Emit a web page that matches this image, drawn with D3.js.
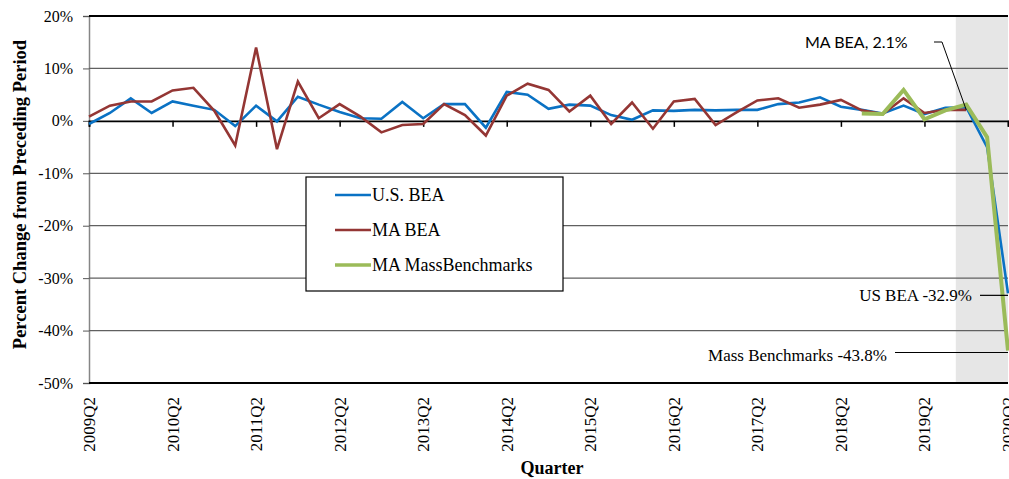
<!DOCTYPE html>
<html><head><meta charset="utf-8">
<script src="https://cdn.jsdelivr.net/npm/d3@7"></script>
<style>html,body{margin:0;padding:0;background:#fff;}svg{display:block;}</style>
</head><body>
<svg id="chart" width="1009" height="479"></svg>
<script>
const quarters = ["2009Q2","2009Q3","2009Q4","2010Q1","2010Q2","2010Q3","2010Q4","2011Q1","2011Q2","2011Q3","2011Q4","2012Q1","2012Q2","2012Q3","2012Q4","2013Q1","2013Q2","2013Q3","2013Q4","2014Q1","2014Q2","2014Q3","2014Q4","2015Q1","2015Q2","2015Q3","2015Q4","2016Q1","2016Q2","2016Q3","2016Q4","2017Q1","2017Q2","2017Q3","2017Q4","2018Q1","2018Q2","2018Q3","2018Q4","2019Q1","2019Q2","2019Q3","2019Q4","2020Q1","2020Q2"];
const tickLabels = ["2009Q2","2010Q2","2011Q2","2012Q2","2013Q2","2014Q2","2015Q2","2016Q2","2017Q2","2018Q2","2019Q2","2020Q2"];
const yTicks = [20,10,0,-10,-20,-30,-40,-50];
const usBEA = [-0.6,1.5,4.3,1.5,3.7,2.9,2.1,-1.0,2.9,-0.1,4.6,3.1,1.7,0.5,0.4,3.6,0.5,3.2,3.2,-1.3,5.5,5.0,2.3,3.1,2.9,1.1,0.2,2.0,1.9,2.1,2.0,2.1,2.1,3.2,3.5,4.5,2.7,2.1,1.4,2.9,1.3,2.5,2.6,-5.0,-32.9];
const maBEA = [0.8,2.9,3.7,3.7,5.8,6.3,1.9,-4.7,14.0,-5.4,7.5,0.5,3.2,0.8,-2.2,-0.8,-0.6,3.2,1.1,-2.8,4.8,7.1,5.9,1.8,4.8,-0.6,3.5,-1.5,3.7,4.2,-0.8,1.6,3.9,4.3,2.5,3.1,4.0,2.0,1.3,4.3,1.5,2.1,2.1,null,null];
const massBench = [null,null,null,null,null,null,null,null,null,null,null,null,null,null,null,null,null,null,null,null,null,null,null,null,null,null,null,null,null,null,null,null,null,null,null,null,null,1.4,1.3,5.9,0.3,2.0,3.1,-3.1,-43.8];
const seriesNames = ["U.S. BEA","MA BEA","MA MassBenchmarks"];
const seriesColors = ["#0a72c4","#943634","#9bbb59"];
const seriesWidths = [2.6,2.6,4];
const shadeStart = "2019Q4", shadeEnd = "2020Q2";

const svg = d3.select("#chart");
const L = 89, R = 1008, T = 16, B = 383;
const x = d3.scalePoint().domain(quarters).range([L, R]);
const y = d3.scaleLinear().domain([-50, 20]).range([B, T]);
const step = x.step();
const serif = "'Liberation Serif','Times New Roman',serif";

// shaded recession region
svg.append("rect").attr("x", x(shadeStart) - step/2).attr("y", T)
  .attr("width", R - (x(shadeStart) - step/2)).attr("height", B - T).attr("fill", "#e6e6e6");

// y axis
const yAxis = d3.axisLeft(y).tickValues(yTicks).tickSize(6).tickPadding(10).tickFormat(d => d + "%");
const gy = svg.append("g").attr("transform", `translate(${L},0)`).call(yAxis);
gy.select(".domain").attr("stroke", "#868686").attr("stroke-width", 1.5);
gy.selectAll(".tick line").attr("stroke", "#555");
gy.selectAll(".tick text").attr("font-family", serif).attr("font-size", 16).attr("fill", "#000");

// gridlines
svg.append("g").selectAll("line").data(yTicks.filter(d => d !== 0)).join("line")
  .attr("x1", L).attr("x2", R).attr("y1", d => y(d)).attr("y2", d => y(d))
  .attr("stroke", d => (d === 20 || d === -50) ? "#000" : "#606060")
  .attr("stroke-width", d => (d === 20 || d === -50) ? 2 : 1.3);

// x axis at zero
const xAxis = d3.axisBottom(x).tickValues(tickLabels).tickSize(6).tickFormat("");
const gx = svg.append("g").attr("transform", `translate(0,${y(0)})`).call(xAxis);
gx.select(".domain").attr("stroke", "#000").attr("stroke-width", 1.8);
gx.selectAll(".tick line").attr("stroke", "#000").attr("stroke-width", 1.5);

// x labels at bottom (rotated)
svg.append("g").selectAll("text").data(tickLabels).join("text")
  .attr("transform", d => `translate(${x(d) + 6},${B + 14}) rotate(-90)`)
  .attr("text-anchor", "end").attr("font-family", serif).attr("font-size", 17).attr("fill", "#000")
  .text(d => d);

// lines
const allSeries = [usBEA, maBEA, massBench];
const line = d3.line().defined(d => d.v !== null).x(d => x(d.q)).y(d => y(d.v));
allSeries.forEach((vals, i) => {
  svg.append("path").datum(vals.map((v, j) => ({q: quarters[j], v})))
    .attr("d", line).attr("fill", "none").attr("stroke", seriesColors[i])
    .attr("stroke-width", seriesWidths[i]).attr("stroke-linejoin", "miter");
});

// legend
const lg = svg.append("g");
lg.append("rect").attr("x", 306).attr("y", 177).attr("width", 257).attr("height", 114)
  .attr("fill", "#fff").attr("stroke", "#000").attr("stroke-width", 1.2);
seriesNames.forEach((n, i) => {
  const yy = 195 + i * 35;
  lg.append("line").attr("x1", 335).attr("x2", 371).attr("y1", yy).attr("y2", yy)
    .attr("stroke", seriesColors[i]).attr("stroke-width", i === 2 ? 3.5 : 2.5);
  lg.append("text").attr("x", 372).attr("y", yy + 6).attr("font-family", serif)
    .attr("font-size", 18).attr("fill", "#000").text(n);
});

// annotations
const ann = svg.append("g");
ann.append("text").attr("x", 805).attr("y", 48).attr("font-family", "Lato,'Open Sans',sans-serif")
  .attr("font-size", 16).attr("fill", "#000").text("MA BEA, " + maBEA[42].toFixed(1) + "%");
ann.append("path").attr("d", `M934,42 L942,42 L${x("2019Q4")},${y(maBEA[42])}`)
  .attr("fill", "none").attr("stroke", "#000").attr("stroke-width", 1);
ann.append("text").attr("x", 972).attr("y", y(usBEA[44]) + 8).attr("text-anchor", "end")
  .attr("font-family", serif).attr("font-size", 17).attr("fill", "#000")
  .text("US BEA " + usBEA[44].toFixed(1) + "%");
ann.append("line").attr("x1", 980).attr("x2", x("2020Q2")).attr("y1", y(usBEA[44]) + 2).attr("y2", y(usBEA[44]) + 2)
  .attr("stroke", "#000").attr("stroke-width", 1.2);
ann.append("text").attr("x", 887).attr("y", y(massBench[44]) + 11).attr("text-anchor", "end")
  .attr("font-family", serif).attr("font-size", 17).attr("fill", "#000")
  .text("Mass Benchmarks " + massBench[44].toFixed(1) + "%");
ann.append("line").attr("x1", 895).attr("x2", x("2020Q2")).attr("y1", y(massBench[44]) + 2).attr("y2", y(massBench[44]) + 2)
  .attr("stroke", "#000").attr("stroke-width", 1.2);

// axis titles
svg.append("text").attr("transform", `translate(26,${(T + B) / 2 - 5}) rotate(-90)`)
  .attr("text-anchor", "middle").attr("font-family", serif).attr("font-weight", "bold")
  .attr("font-size", 18.5).attr("fill", "#000").text("Percent Change from Preceding Period");
svg.append("text").attr("x", 552).attr("y", 474).attr("text-anchor", "middle")
  .attr("font-family", serif).attr("font-weight", "bold").attr("font-size", 18).attr("fill", "#000")
  .text("Quarter");
</script>
</body></html>
